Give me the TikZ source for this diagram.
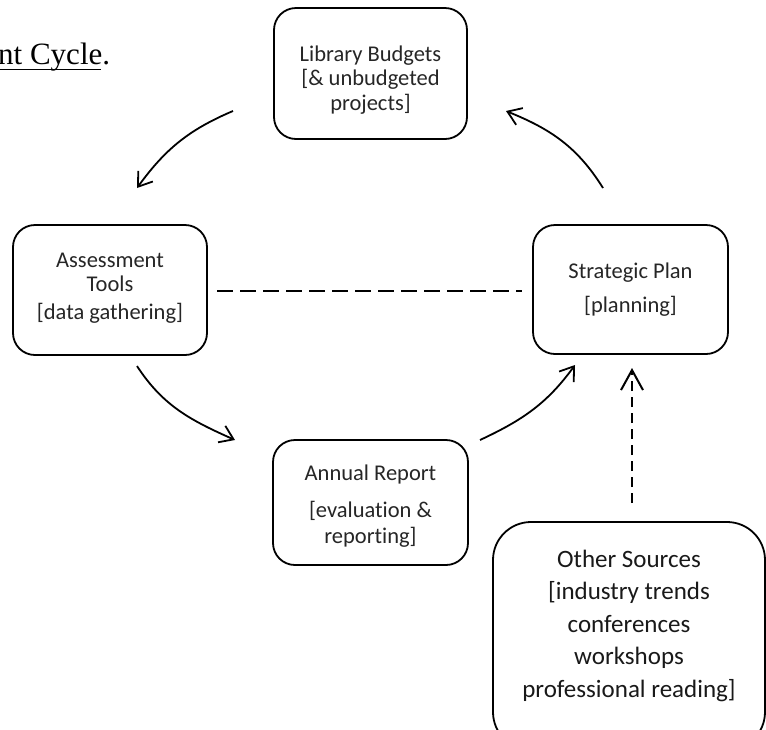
\documentclass[tikz,border=0pt]{standalone}
\usepackage{fontspec}
\setmainfont{Carlito}[Ligatures=NoCommon]
\newfontfamily\titlefont{Liberation Serif}
\usetikzlibrary{arrows.meta}
\tikzset{
  box/.style={draw=black, line width=1.8pt, rounded corners=22pt, inner sep=0pt},
  bigbox/.style={draw=black, line width=1.8pt, rounded corners=38pt, inner sep=0pt},
  txt/.style={anchor=base, inner sep=0pt, text=black!85, font=\fontsize{22.5}{24.5}\selectfont},
  bigtxt/.style={anchor=base, inner sep=0pt, text=black!90, font=\fontsize{25}{32.5}\selectfont},
  flow/.style={line width=1.8pt, -{Straight Barb[length=13pt,width=18pt,line width=1.8pt]}},
  dline/.style={line width=2.4pt, dash pattern=on 16pt off 7pt},
  vdline/.style={line width=2.2pt, dash pattern=on 10pt off 6pt, -{Straight Barb[length=20pt,width=22pt,line width=2pt]}},
}
\begin{document}
\begin{tikzpicture}[x=1pt,y=1pt]
\useasboundingbox (0,0) rectangle (766,-729);
\clip (0,0) rectangle (766,-729);

% title fragment
\node[anchor=base west, inner sep=0pt, font=\titlefont\fontsize{31}{31}\selectfont] (title) at (-2,-64) {nt Cycle.};
\draw[line width=1.6pt] (0,-69.5) -- (101,-69.5);

% boxes
\node[box, minimum width=193pt, minimum height=131pt] (lib) at (370.5,-73.5) {};
\node[box, minimum width=194pt, minimum height=130pt] (ass) at (110,-290) {};
\node[box, minimum width=195pt, minimum height=129pt] (str) at (630.5,-289.5) {};
\node[box, minimum width=195pt, minimum height=125pt] (ann) at (370.5,-502.5) {};
\node[bigbox, minimum width=272pt, minimum height=228pt] (oth) at (629,-636) {};

% texts
\node[txt] (libt) at (370.5,-61) {\begin{tabular}[t]{@{}c@{}}Library Budgets\\ {[}\& unbudgeted\\ projects]\end{tabular}};
\node[txt] (asst) at (110,-267) {\begin{tabular}[t]{@{}c@{}}Assessment\\ Tools\\[3pt] {[}data gathering]\end{tabular}};
\node[txt] (strt) at (630.5,-278) {\begin{tabular}[t]{@{}c@{}}Strategic Plan\\[9.5pt] {[}planning]\end{tabular}};
\node[txt] (annt) at (370.5,-480) {\begin{tabular}[t]{@{}c@{}}Annual Report\\[12.5pt] {[}evaluation \&\\[1.5pt] reporting]\end{tabular}};
\node[bigtxt] (otht) at (629,-567) {\begin{tabular}[t]{@{}c@{}}Other Sources\\ {[}industry trends\\ conferences\\ workshops\\ professional reading]\end{tabular}};

% connector end points
\coordinate (c1s) at (233,-111);
\coordinate (c1e) at (137,-188);
\coordinate (c2s) at (137,-366);
\coordinate (c2e) at (235,-440);
\coordinate (c3s) at (480,-440);
\coordinate (c3e) at (575,-365);
\coordinate (c4s) at (603,-188);
\coordinate (c4e) at (506,-111);
\coordinate (hl) at (217,-291);
\coordinate (hr) at (522,-291);
\coordinate (vb) at (632,-503);
\coordinate (vt) at (632,-368);

\draw[flow] (c1s) to[out=203,in=54] (c1e);
\draw[flow] (c2s) to[out=303,in=156] (c2e);
\draw[flow] (c3s) to[out=25,in=234] (c3e);
\draw[flow] (c4s) to[out=122,in=338] (c4e);
\draw[dline] (hl) -- (hr);
\draw[vdline] (vb) -- (vt);
\end{tikzpicture}
\end{document}
